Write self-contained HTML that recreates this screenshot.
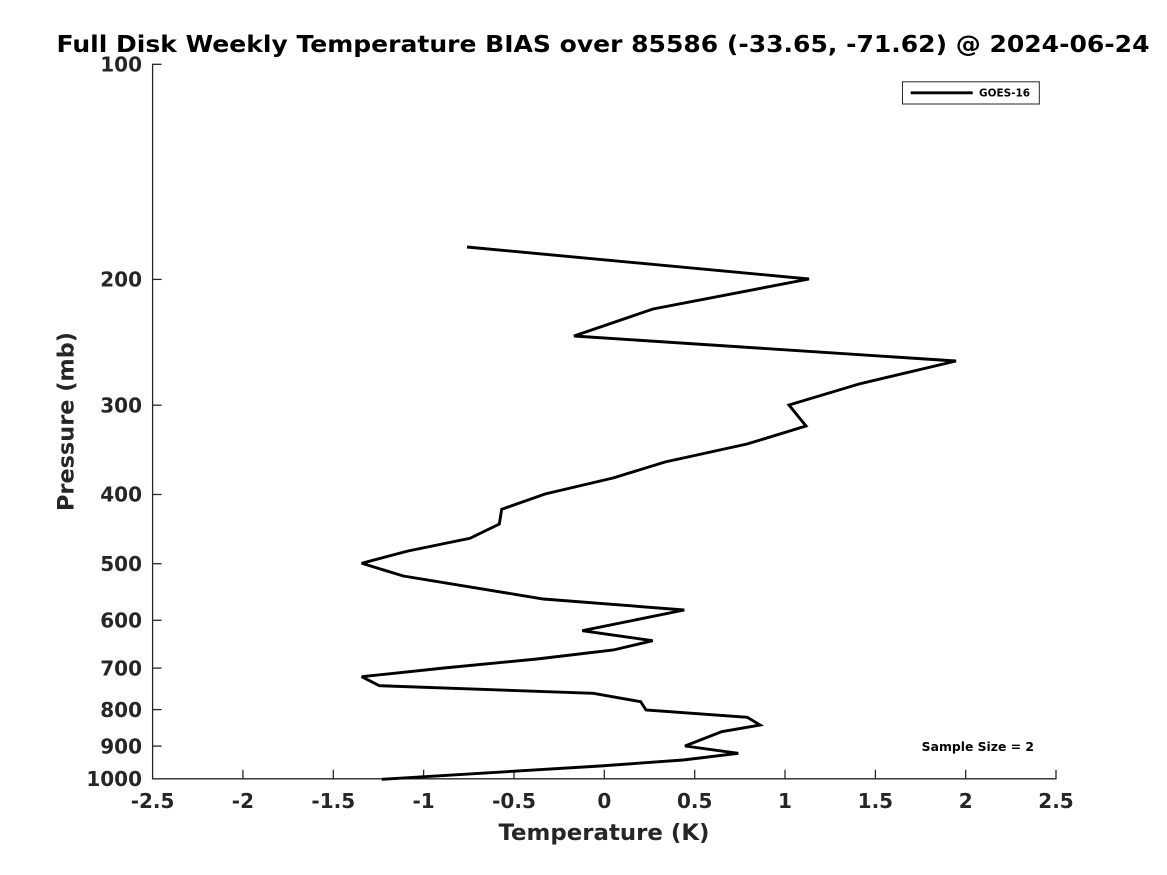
<!DOCTYPE html>
<html>
<head>
<meta charset="utf-8">
<style>
html,body{margin:0;padding:0;background:#fff;}
svg{display:block;}
text{font-family:"DejaVu Sans","Liberation Sans",sans-serif;font-weight:bold;}
</style>
</head>
<body>
<svg width="1167" height="875" viewBox="0 0 1167 875" xmlns="http://www.w3.org/2000/svg">
<rect width="1167" height="875" fill="#fff"/>
<!-- title -->
<text x="56.5" y="52" font-size="23" fill="#000" textLength="1093" lengthAdjust="spacingAndGlyphs">Full Disk Weekly Temperature BIAS over 85586 (-33.65, -71.62) @ 2024-06-24</text>

<!-- axes -->
<g stroke="#262626" stroke-width="1.3" fill="none">
<line x1="152.6" y1="63.7" x2="152.6" y2="779.4"/>
<line x1="152" y1="778.8" x2="1056.5" y2="778.8"/>
<!-- y ticks -->
<line x1="152.6" y1="64.3" x2="161.6" y2="64.3"/>
<line x1="152.6" y1="279.4" x2="161.6" y2="279.4"/>
<line x1="152.6" y1="405.2" x2="161.6" y2="405.2"/>
<line x1="152.6" y1="494.5" x2="161.6" y2="494.5"/>
<line x1="152.6" y1="563.7" x2="161.6" y2="563.7"/>
<line x1="152.6" y1="620.3" x2="161.6" y2="620.3"/>
<line x1="152.6" y1="668.1" x2="161.6" y2="668.1"/>
<line x1="152.6" y1="709.6" x2="161.6" y2="709.6"/>
<line x1="152.6" y1="746.1" x2="161.6" y2="746.1"/>
<!-- x ticks -->
<line x1="242.9" y1="778.8" x2="242.9" y2="769.8"/>
<line x1="333.3" y1="778.8" x2="333.3" y2="769.8"/>
<line x1="423.6" y1="778.8" x2="423.6" y2="769.8"/>
<line x1="514" y1="778.8" x2="514" y2="769.8"/>
<line x1="604.3" y1="778.8" x2="604.3" y2="769.8"/>
<line x1="694.7" y1="778.8" x2="694.7" y2="769.8"/>
<line x1="785" y1="778.8" x2="785" y2="769.8"/>
<line x1="875.4" y1="778.8" x2="875.4" y2="769.8"/>
<line x1="965.7" y1="778.8" x2="965.7" y2="769.8"/>
<line x1="1056" y1="778.8" x2="1056" y2="769.8"/>
</g>

<!-- y tick labels -->
<g font-size="20" fill="#262626" text-anchor="end">
<text x="142" y="71.5">100</text>
<text x="142" y="286.6">200</text>
<text x="142" y="412.4">300</text>
<text x="142" y="501.7">400</text>
<text x="142" y="570.9">500</text>
<text x="142" y="627.5">600</text>
<text x="142" y="675.3">700</text>
<text x="142" y="716.8">800</text>
<text x="142" y="753.3">900</text>
<text x="142" y="786">1000</text>
</g>

<!-- x tick labels -->
<g font-size="20" fill="#262626" text-anchor="middle">
<text x="152.6" y="808">-2.5</text>
<text x="242.9" y="808">-2</text>
<text x="333.3" y="808">-1.5</text>
<text x="423.6" y="808">-1</text>
<text x="514" y="808">-0.5</text>
<text x="604.3" y="808">0</text>
<text x="694.7" y="808">0.5</text>
<text x="785" y="808">1</text>
<text x="875.4" y="808">1.5</text>
<text x="965.7" y="808">2</text>
<text x="1056" y="808">2.5</text>
</g>

<!-- axis labels -->
<text x="604" y="840" font-size="22.5" fill="#262626" text-anchor="middle" textLength="211" lengthAdjust="spacingAndGlyphs">Temperature (K)</text>
<text transform="translate(73.5,421.5) rotate(-90)" x="0" y="0" font-size="22.5" fill="#262626" text-anchor="middle" textLength="179" lengthAdjust="spacingAndGlyphs">Pressure (mb)</text>

<!-- data line -->
<polyline fill="none" stroke="#000" stroke-width="2.9" stroke-linejoin="miter" stroke-miterlimit="3"
points="467,247 809,279 653,309 574,336 956,361 859,384 789,405 806,426 747,444 665,462 613,478 545,494 501.7,509.3 499.3,524 470,538.3 408,551 361.7,563.3 403.3,576 543.3,599 684.3,610 582.3,630.7 652.7,640.7 613.3,650 537,659 444,668 361.7,676.7 379.3,685.7 593.3,693.3 640.7,701.7 646,710 747.3,717.3 760,725 721.7,731.7 685,746 738.3,753.3 683.3,760 600,766 381.7,779.3"/>

<!-- legend -->
<rect x="902.5" y="81.8" width="136.8" height="22.2" fill="#fff" stroke="#262626" stroke-width="1"/>
<line x1="910.7" y1="92.8" x2="972.7" y2="92.8" stroke="#000" stroke-width="2.9"/>
<text x="979" y="96.6" font-size="10.5" fill="#000" textLength="51" lengthAdjust="spacingAndGlyphs">GOES-16</text>

<!-- sample size -->
<text x="921.7" y="751" font-size="12.3" fill="#000" textLength="112.3" lengthAdjust="spacingAndGlyphs">Sample Size = 2</text>
</svg>
</body>
</html>
